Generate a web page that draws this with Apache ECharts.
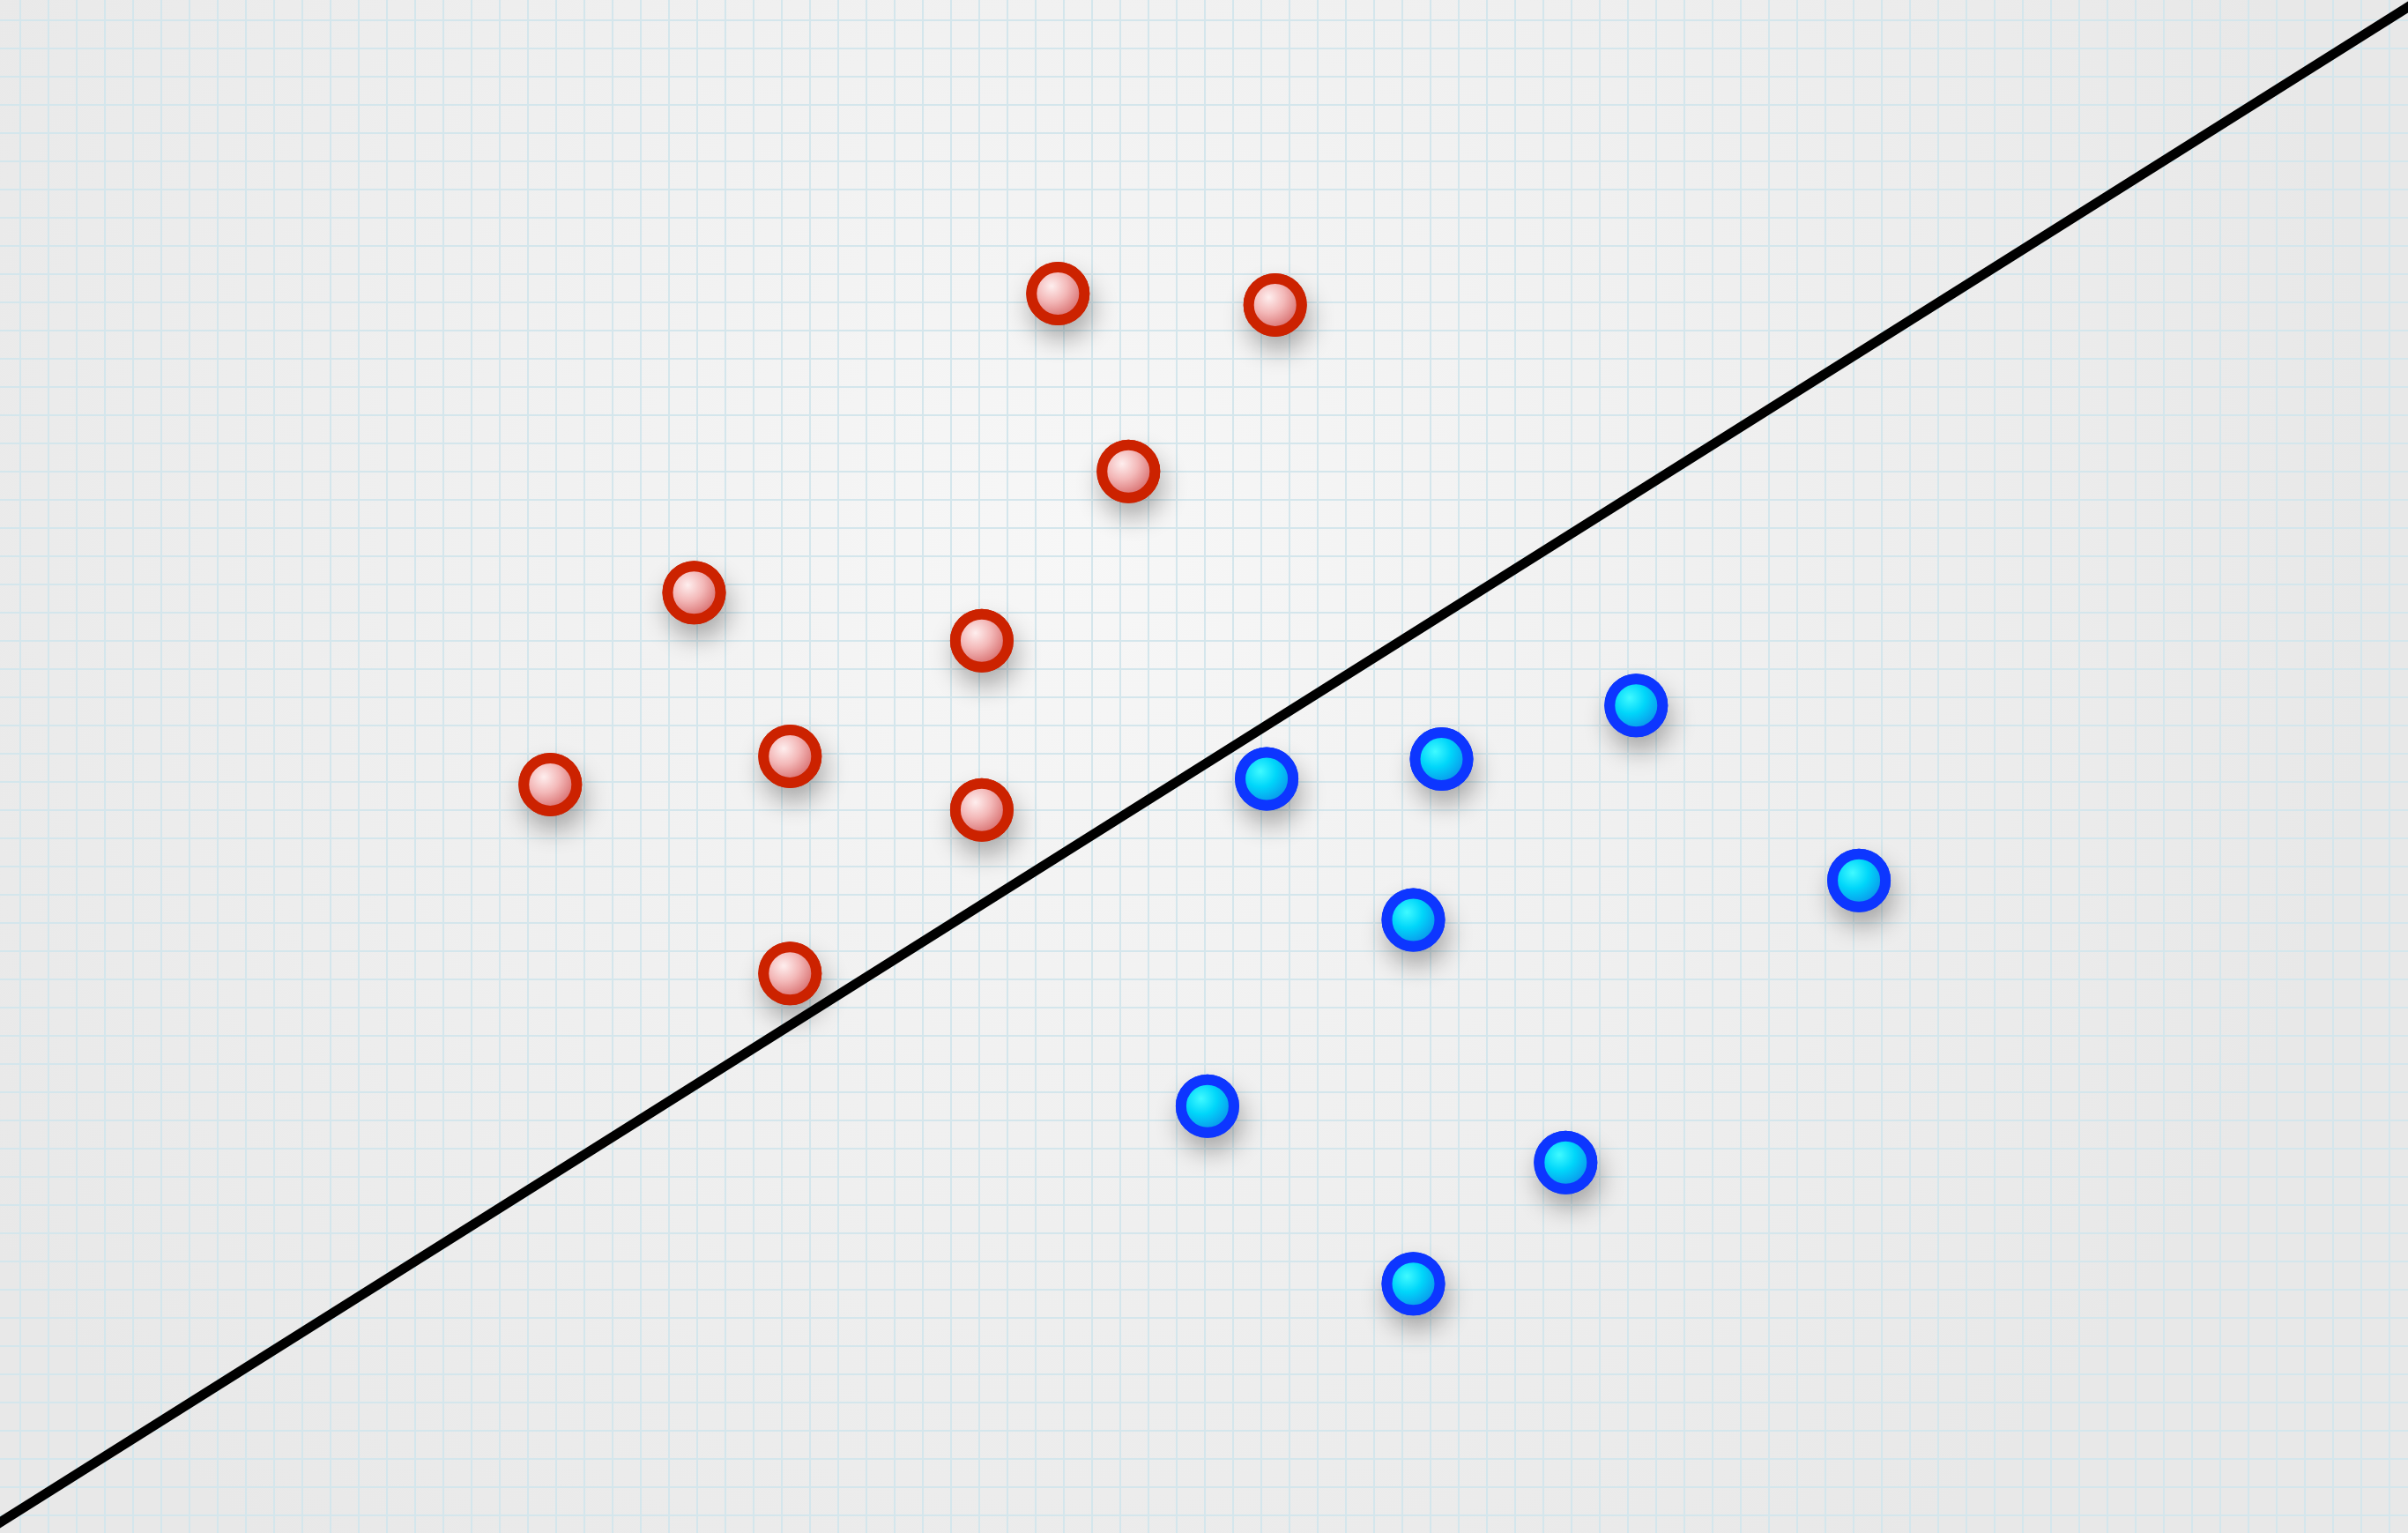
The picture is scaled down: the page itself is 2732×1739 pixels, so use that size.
<!DOCTYPE html>
<html lang="en">

<head>
    <meta charset="UTF-8">
    <title>scatter</title>
    <style>
        html, body { margin: 0; padding: 0; }
        .div { width: 2732px; height: 1739px; }
    </style>
</head>

<body>
    <div class="div"></div>
    <script src="https://cdn.jsdelivr.net/npm/echarts@6/dist/echarts.min.js"></script>
    <script>
        // one unit = one grid cell
        var redX = [37.8, 45.5, 40.3, 24.9, 35.1, 28.3, 19.8, 35.1, 28.3]
        var redY = [44.3, 43.9, 38.0, 33.7, 32.0, 27.9, 26.9, 26.0, 20.2]
        var blueX = [45.2, 51.4, 58.3, 66.2, 50.4, 43.1, 55.8, 50.4]
        var blueY = [27.1, 27.8, 29.7, 23.5, 22.1, 15.5, 13.5, 9.2]
        var lineX = [0, 86]
        var lineY = [0.56, 54.67]

        function pairs(xs, ys) {
            return xs.map(function (x, i) { return [x, ys[i]] })
        }

        // shadow drawn by a layer under the dots so it doesn't darken the fill
        function shadowLayer(xs, ys, color) {
            return {
                type: 'scatter',
                data: pairs(xs, ys),
                symbolSize: 72,
                z: 2,
                silent: true,
                itemStyle: {
                    opacity: 1,
                    color: color,
                    shadowBlur: 28,
                    shadowColor: 'rgba(0,0,0,0.3)',
                    shadowOffsetX: 4,
                    shadowOffsetY: 16
                }
            }
        }

        var myecharts = echarts.init(document.getElementsByClassName('div')[0]);
        var option = {
            animation: false,
            backgroundColor: {
                type: 'radial', x: 0.45, y: 0.35, r: 0.85,
                colorStops: [
                    { offset: 0, color: '#f7f7f7' },
                    { offset: 1, color: '#e8e8e8' }
                ]
            },
            grid: {
                left: -9.3, top: -9.3, width: 86 * 32, height: 55 * 32,
                outerBoundsMode: 'none'
            },
            xAxis: {
                type: 'value', min: 0, max: 86, interval: 1,
                axisLine: { show: false }, axisTick: { show: false }, axisLabel: { show: false },
                splitLine: { lineStyle: { color: '#d4e6ec', width: 2 } }
            },
            yAxis: {
                type: 'value', min: 0, max: 55, interval: 1,
                axisLine: { show: false }, axisTick: { show: false }, axisLabel: { show: false },
                splitLine: { lineStyle: { color: '#d4e6ec', width: 2 } }
            },
            series: [
                {
                    type: 'line',
                    data: pairs(lineX, lineY),
                    symbol: 'none',
                    z: 1,
                    lineStyle: { color: '#000', width: 11 }
                },
                shadowLayer(redX, redY, '#cc2200'),
                shadowLayer(blueX, blueY, '#0d36ff'),
                {
                    type: 'scatter',
                    data: pairs(redX, redY),
                    symbolSize: 60,
                    z: 3,
                    itemStyle: {
                        opacity: 1,
                        color: {
                            type: 'radial', x: 0.4, y: 0.38, r: 0.5,
                            colorStops: [
                                { offset: 0, color: '#feeeee' },
                                { offset: 0.5, color: '#f3b8b8' },
                                { offset: 1, color: '#da7474' }
                            ]
                        },
                        borderColor: '#cc2200',
                        borderWidth: 12
                    }
                },
                {
                    type: 'scatter',
                    data: pairs(blueX, blueY),
                    symbolSize: 60,
                    z: 3,
                    itemStyle: {
                        opacity: 1,
                        color: {
                            type: 'radial', x: 0.4, y: 0.38, r: 0.5,
                            colorStops: [
                                { offset: 0, color: '#40faff' },
                                { offset: 0.5, color: '#00d6fa' },
                                { offset: 1, color: '#0a9aec' }
                            ]
                        },
                        borderColor: '#0d36ff',
                        borderWidth: 12
                    }
                }
            ]
        }
        myecharts.setOption(option);
        window.onresize = myecharts.resize
    </script>
</body>

</html>
